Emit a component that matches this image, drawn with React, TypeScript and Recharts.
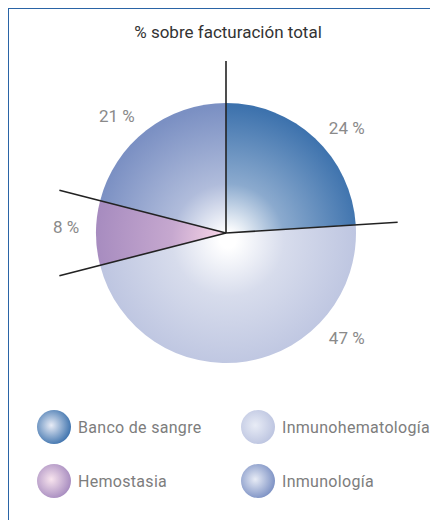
import React from "react";
import { PieChart, Pie, Cell } from "recharts";

const categories = ["Banco de sangre", "Inmunohematología", "Hemostasia", "Inmunología"];
const shares = [24, 47, 8, 21];
const edgeColors = ["#3d72ad", "#bcc4e0", "#a68bbf", "#7b90c3"];
const midColors = ["#8baace", "#d7dcec", "#c6a8cf", "#b0bcdb"];
const innerColors = ["#ffffff", "#ffffff", "#f6d3e6", "#ffffff"];
// where each percent label sits around the pie (degrees)
const labelAngles = [41, -41, 178, 133];

const FONT = "Roboto, 'Liberation Sans', sans-serif";
const CX = 218;
const CY = 225;
const R = 130;

const data = categories.map((name, i) => ({ name, value: shares[i] }));

const RAD = Math.PI / 180;

function renderLabel(props: any) {
  const { startAngle, index, value } = props;
  const lx = CX + 172 * Math.cos(startAngle * RAD);
  const ly = CY - 172 * Math.sin(startAngle * RAD);
  const a = labelAngles[index];
  const tx = CX + 160 * Math.cos(a * RAD);
  const ty = CY - 160 * Math.sin(a * RAD);
  return (
    <g key={`lbl-${index}`}>
      <line x1={CX} y1={CY} x2={lx} y2={ly} stroke="#222" strokeWidth={1.6} />
      <text
        x={tx}
        y={ty}
        textAnchor="middle"
        dominantBaseline="central"
        fill="#8a8a8a"
        fontFamily={FONT}
        fontSize={17}
      >
        {value} %
      </text>
    </g>
  );
}

function Gradients() {
  return (
    <svg width={0} height={0} style={{ position: "absolute" }}>
      <defs>
        {edgeColors.map((c, i) => (
          <radialGradient
            key={`pg-${i}`}
            id={`pg-${i}`}
            gradientUnits="userSpaceOnUse"
            cx={CX + 2}
            cy={CY + 7}
            r={R + 4}
          >
            <stop offset="0%" stopColor={innerColors[i]} />
            <stop offset="6%" stopColor={innerColors[i]} />
            <stop offset="42%" stopColor={midColors[i]} />
            <stop offset="100%" stopColor={c} />
          </radialGradient>
        ))}
        {edgeColors.map((c, i) => (
          <radialGradient key={`lg-${i}`} id={`lg-${i}`} cx="42%" cy="45%" r="60%">
            <stop offset="0%" stopColor={i === 2 ? "#f8e4ee" : "#e8ecf6"} />
            <stop offset="100%" stopColor={c} />
          </radialGradient>
        ))}
      </defs>
    </svg>
  );
}

function LegendBox() {
  return (
    <div
      style={{
        position: "absolute",
        left: 29,
        top: 402,
        display: "grid",
        gridTemplateColumns: "204px 190px",
        rowGap: 20,
        fontFamily: FONT,
        fontSize: 16,
        color: "#7d7d7d",
        letterSpacing: 0.3,
      }}
    >
      {categories.map((name, i) => (
        <div key={name} style={{ display: "flex", alignItems: "center", height: 34 }}>
          <svg width={34} height={34} style={{ marginRight: 7, flexShrink: 0 }}>
            <circle cx={17} cy={17} r={17} fill={`url(#lg-${i})`} />
          </svg>
          <span>{name}</span>
        </div>
      ))}
    </div>
  );
}

export default function App() {
  return (
    <div style={{ position: "relative", width: 430, height: 512 }}>
      <Gradients />
      <div
        style={{
          position: "absolute",
          left: 0,
          top: 0,
          width: 430,
          height: 512,
          borderTop: "1.5px solid #2a64a6",
          borderLeft: "1.5px solid #2a64a6",
          boxSizing: "border-box",
          pointerEvents: "none",
        }}
      />
      <div
        style={{
          position: "absolute",
          left: 0,
          width: 440,
          top: 14,
          textAlign: "center",
          fontFamily: FONT,
          fontSize: 17,
          color: "#333",
        }}
      >
        % sobre facturación total
      </div>
      <PieChart width={430} height={400} margin={{ top: 0, right: 0, bottom: 0, left: 0 }}>
        <Pie
          data={data}
          dataKey="value"
          nameKey="name"
          cx={CX}
          cy={CY}
          outerRadius={R}
          startAngle={90}
          endAngle={-270}
          stroke="none"
          label={renderLabel}
          labelLine={false}
          isAnimationActive={false}
        >
          {data.map((d, i) => (
            <Cell key={d.name} fill={`url(#pg-${i})`} />
          ))}
        </Pie>
      </PieChart>
      <LegendBox />
    </div>
  );
}
